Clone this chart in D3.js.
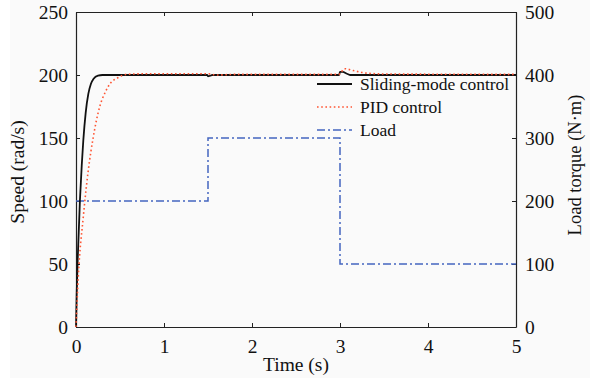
<!DOCTYPE html>
<html>
<head>
<meta charset="utf-8">
<script src="https://cdn.jsdelivr.net/npm/d3@7"></script>
<style>
  body { margin: 0; background: #fff; }
  text { font-family: "Liberation Serif", "Times New Roman", serif; fill: #111; }
</style>
</head>
<body>
<svg id="chart" width="597" height="378"></svg>
<script>
// sliding-mode speed response
const smcTime = [0, 0.008, 0.02, 0.045, 0.065, 0.083, 0.11, 0.14, 0.17, 0.2, 0.25, 0.3, 1.49, 1.5, 1.52, 1.55, 2.99, 3.0, 3.03, 3.08, 3.12, 5];
const smcSpeed = [0, 27, 55, 101, 128, 148, 170, 185, 193, 197, 199.5, 200, 200, 199, 199.3, 200, 200, 202.5, 202.5, 201, 200, 200];

// PID speed response
const pidTime = [0, 0.026, 0.083, 0.14, 0.197, 0.27, 0.33, 0.386, 0.48, 0.576, 0.8, 1.49, 1.5, 1.6, 1.8, 2.99, 3.0, 3.05, 3.15, 3.3, 3.5, 5];
const pidSpeed = [0, 40, 87.5, 124.6, 151, 175, 186, 193, 198, 200.5, 201, 201, 201, 200, 200.5, 200.5, 201, 205, 203.5, 201.5, 200.8, 200.5];

// load torque steps
const loadTime = [0, 1.5, 3, 5];
const loadTorque = [200, 300, 100, 100];

const timeTicks = [0, 1, 2, 3, 4, 5];
const speedTicks = [0, 50, 100, 150, 200, 250];
const torqueTicks = [0, 100, 200, 300, 400, 500];
const legendLabels = ['Sliding-mode control', 'PID control', 'Load'];

const svg = d3.select('#chart');
const mLeft = 76, mRight = 516, mTop = 12, mBottom = 327;

svg.append('rect')
  .attr('x', 10).attr('y', 0)
  .attr('width', 580).attr('height', 378)
  .attr('fill', '#fafafa');

const x = d3.scaleLinear().domain([0, 5]).range([mLeft, mRight]);
const y = d3.scaleLinear().domain([0, 250]).range([mBottom, mTop]);
const y2 = d3.scaleLinear().domain([0, 500]).range([mBottom, mTop]);

const styleAxis = g => {
  g.selectAll('path').attr('stroke', '#222').attr('stroke-width', 1.2);
  g.selectAll('line').attr('stroke', '#222');
  g.selectAll('text').attr('font-size', 19.5).attr('font-family', '"Liberation Serif", serif').attr('fill', '#111');
};

svg.append('g')
  .attr('transform', `translate(0,${mBottom})`)
  .call(d3.axisBottom(x).tickValues(timeTicks).tickFormat(d3.format('d')).tickSize(-4).tickSizeOuter(0).tickPadding(12))
  .call(styleAxis);

svg.append('g')
  .attr('transform', `translate(0,${mTop})`)
  .call(d3.axisTop(x).tickValues(timeTicks).tickFormat('').tickSize(-4).tickSizeOuter(0))
  .call(styleAxis);

svg.append('g')
  .attr('transform', `translate(${mLeft},0)`)
  .call(d3.axisLeft(y).tickValues(speedTicks).tickSize(-4).tickSizeOuter(0).tickPadding(8))
  .call(styleAxis);

svg.append('g')
  .attr('transform', `translate(${mRight},0)`)
  .call(d3.axisRight(y2).tickValues(torqueTicks).tickSize(-4).tickSizeOuter(0).tickPadding(9))
  .call(styleAxis);

// lines
const speedLine = d3.line()
  .x(d => x(d[0]))
  .y(d => y(d[1]))
  .curve(d3.curveMonotoneX);

const loadLine = d3.line()
  .x(d => x(d[0]))
  .y(d => y2(d[1]))
  .curve(d3.curveStepAfter);

svg.append('path')
  .datum(d3.zip(loadTime, loadTorque))
  .attr('d', loadLine)
  .attr('fill', 'none')
  .attr('stroke', '#4466c0')
  .attr('stroke-width', 1.5)
  .attr('stroke-dasharray', '8,3,2,3');

svg.append('path')
  .datum(d3.zip(smcTime, smcSpeed))
  .attr('d', speedLine)
  .attr('fill', 'none')
  .attr('stroke', '#111')
  .attr('stroke-width', 1.8);

svg.append('path')
  .datum(d3.zip(pidTime, pidSpeed))
  .attr('d', speedLine)
  .attr('fill', 'none')
  .attr('stroke', '#ff5533')
  .attr('stroke-width', 1.6)
  .attr('stroke-dasharray', '1.6,2.6');

// legend
const legendStyles = [
  { stroke: '#111', dash: null, w: 1.8 },
  { stroke: '#ff5533', dash: '1.6,2.6', w: 1.6 },
  { stroke: '#4466c0', dash: '8,3,2,3', w: 1.5 }
];

const legend = svg.append('g')
  .selectAll('g')
  .data(legendLabels)
  .enter()
  .append('g')
  .attr('transform', (d, i) => `translate(317, ${84 + i * 23})`);

legend.append('line')
  .attr('x1', 0).attr('x2', 35)
  .attr('stroke', (d, i) => legendStyles[i].stroke)
  .attr('stroke-width', (d, i) => legendStyles[i].w)
  .attr('stroke-dasharray', (d, i) => legendStyles[i].dash);

legend.append('text')
  .attr('x', 43)
  .attr('dy', '0.35em')
  .attr('font-size', 17.5)
  .text(d => d);

// axis titles
svg.append('text')
  .attr('x', (mLeft + mRight) / 2)
  .attr('y', 371)
  .attr('text-anchor', 'middle')
  .attr('font-size', 19.5)
  .text('Time (s)');

svg.append('text')
  .attr('transform', 'translate(24,172) rotate(-90)')
  .attr('text-anchor', 'middle')
  .attr('font-size', 19.5)
  .text('Speed (rad/s)');

svg.append('text')
  .attr('transform', 'translate(581,165) rotate(-90)')
  .attr('text-anchor', 'middle')
  .attr('font-size', 18.5)
  .text('Load torque (N·m)');
</script>
</body>
</html>
